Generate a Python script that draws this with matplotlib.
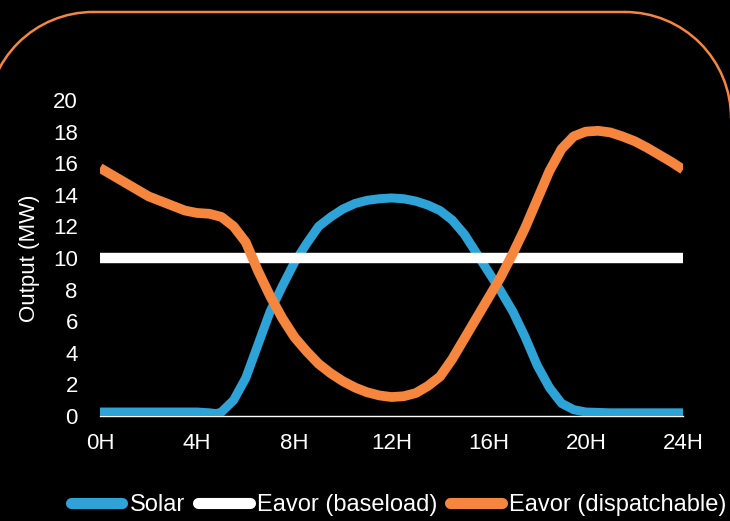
import matplotlib.pyplot as plt
from matplotlib.patches import Arc
from matplotlib.lines import Line2D

# Datos (horas, MW)
horas_solar = [0, 1, 2, 3, 4, 4.5, 4.8, 5.0, 5.5, 6.0, 6.5, 7.0, 7.5, 8.0, 8.5, 9.0,
               9.5, 10, 10.5, 11, 11.5, 12, 12.5, 13, 13.5, 14, 14.5, 15, 15.5, 16,
               16.5, 17, 17.5, 18, 18.5, 19, 19.5, 20, 21, 22, 23, 24]
solar = [0.25, 0.25, 0.25, 0.25, 0.25, 0.2, 0.15, 0.25, 1.0, 2.4, 4.5, 6.6, 8.2, 9.7, 10.9, 12.0,
         12.6, 13.1, 13.45, 13.65, 13.75, 13.8, 13.75, 13.6, 13.35, 13.0, 12.4, 11.5, 10.3, 9.1,
         7.9, 6.6, 5.0, 3.2, 1.8, 0.8, 0.4, 0.25, 0.2, 0.2, 0.2, 0.2]

horas_base = [0, 24]
baseload = [10, 10]

horas_disp = [0, 1, 2, 3, 3.5, 4, 4.5, 5, 5.5, 6.0, 6.5, 7.0, 7.5, 8.0, 8.5, 9.0, 9.5,
              10, 10.5, 11, 11.5, 12, 12.5, 13, 13.5, 14, 14.5, 15, 15.5, 16, 16.5,
              17, 17.5, 18, 18.5, 19, 19.5, 20, 20.5, 21, 21.5, 22, 22.5, 23, 23.5, 24]
dispatchable = [15.7, 14.8, 13.9, 13.3, 13.0, 12.85, 12.8, 12.6, 12.0, 11.0, 9.2, 7.6, 6.2, 5.0, 4.1, 3.3, 2.7,
                2.2, 1.8, 1.5, 1.3, 1.2, 1.25, 1.45, 1.9, 2.5, 3.6, 4.9, 6.2, 7.5, 8.8,
                10.3, 11.9, 13.7, 15.5, 16.9, 17.7, 18.0, 18.05, 17.95, 17.7, 17.4, 17.0, 16.55, 16.1, 15.6]

xticks = [0, 4, 8, 12, 16, 20, 24]
xtick_labels = ["0H", "4H", "8H", "12H", "16H", "20H", "24H"]
yticks = list(range(0, 21, 2))

azul = "#2DA3D7"
naranja = "#F6863D"
fuente = 16

plt.rcParams['font.family'] = ['Liberation Sans', 'DejaVu Sans']

fig = plt.figure(figsize=(7.3, 5.21), dpi=100, facecolor="black")

# Marco naranja redondeado, en unos ejes de fondo medidos en pixeles
fondo = fig.add_axes([0, 0, 1, 1], zorder=0)
fondo.set_xlim(0, 730)
fondo.set_ylim(521, 0)
fondo.axis("off")
radio = 106
arriba = 12
cx_izq, cx_der = 93, 625
cy = arriba + radio
fondo.add_patch(Arc((cx_izq, cy), 2 * radio, 2 * radio, theta1=180, theta2=270,
                    color=naranja, lw=1.8, capstyle="round", snap=False))
fondo.add_patch(Arc((cx_der, cy), 2 * radio, 2 * radio, theta1=270, theta2=360,
                    color=naranja, lw=1.8, capstyle="round", snap=False))
fondo.plot([cx_izq, cx_der], [arriba, arriba], color=naranja, lw=1.8,
           solid_capstyle="round", snap=False)

ax = fig.add_axes([100 / 730, 105 / 521, 583 / 730, 316 / 521], zorder=1)
ax.set_facecolor("none")

estilo = dict(solid_capstyle="butt", solid_joinstyle="round", zorder=3)
ax.plot(horas_solar, solar, color=azul, lw=6.5, **estilo)
ax.plot(horas_base, baseload, color="white", lw=7.5, **estilo)
ax.plot(horas_disp, dispatchable, color=naranja, lw=7, **estilo)

ax.set_xlim(0, 24)
ax.set_ylim(0, 20)
ax.set_xticks(xticks)
ax.set_xticklabels(xtick_labels)
ax.set_yticks(yticks)
ax.tick_params(colors="white", labelsize=fuente, length=0)
ax.tick_params(axis="y", pad=16)
ax.tick_params(axis="x", pad=12)

for lado in ["top", "right", "left"]:
    ax.spines[lado].set_visible(False)
ax.spines["bottom"].set_color("white")
ax.spines["bottom"].set_linewidth(1)
ax.spines["bottom"].set_zorder(2)

ax.set_ylabel("Output (MW)", color="white", fontsize=fuente)
ax.yaxis.set_label_coords(-0.103, 0.5)

manijas = [
    Line2D([], [], color=azul, lw=8, solid_capstyle="round"),
    Line2D([], [], color="white", lw=8, solid_capstyle="round"),
    Line2D([], [], color=naranja, lw=8, solid_capstyle="round"),
]
fig.legend(manijas, ["Solar", "Eavor (baseload)", "Eavor (dispatchable)"],
           loc="center", bbox_to_anchor=(0.546, 0.031), ncol=3, frameon=False,
           prop={"size": 17}, labelcolor="white", handlelength=2.2, handletextpad=0.3,
           columnspacing=0.55, borderaxespad=0)

fig.savefig("out.png", dpi=100, facecolor="black")
